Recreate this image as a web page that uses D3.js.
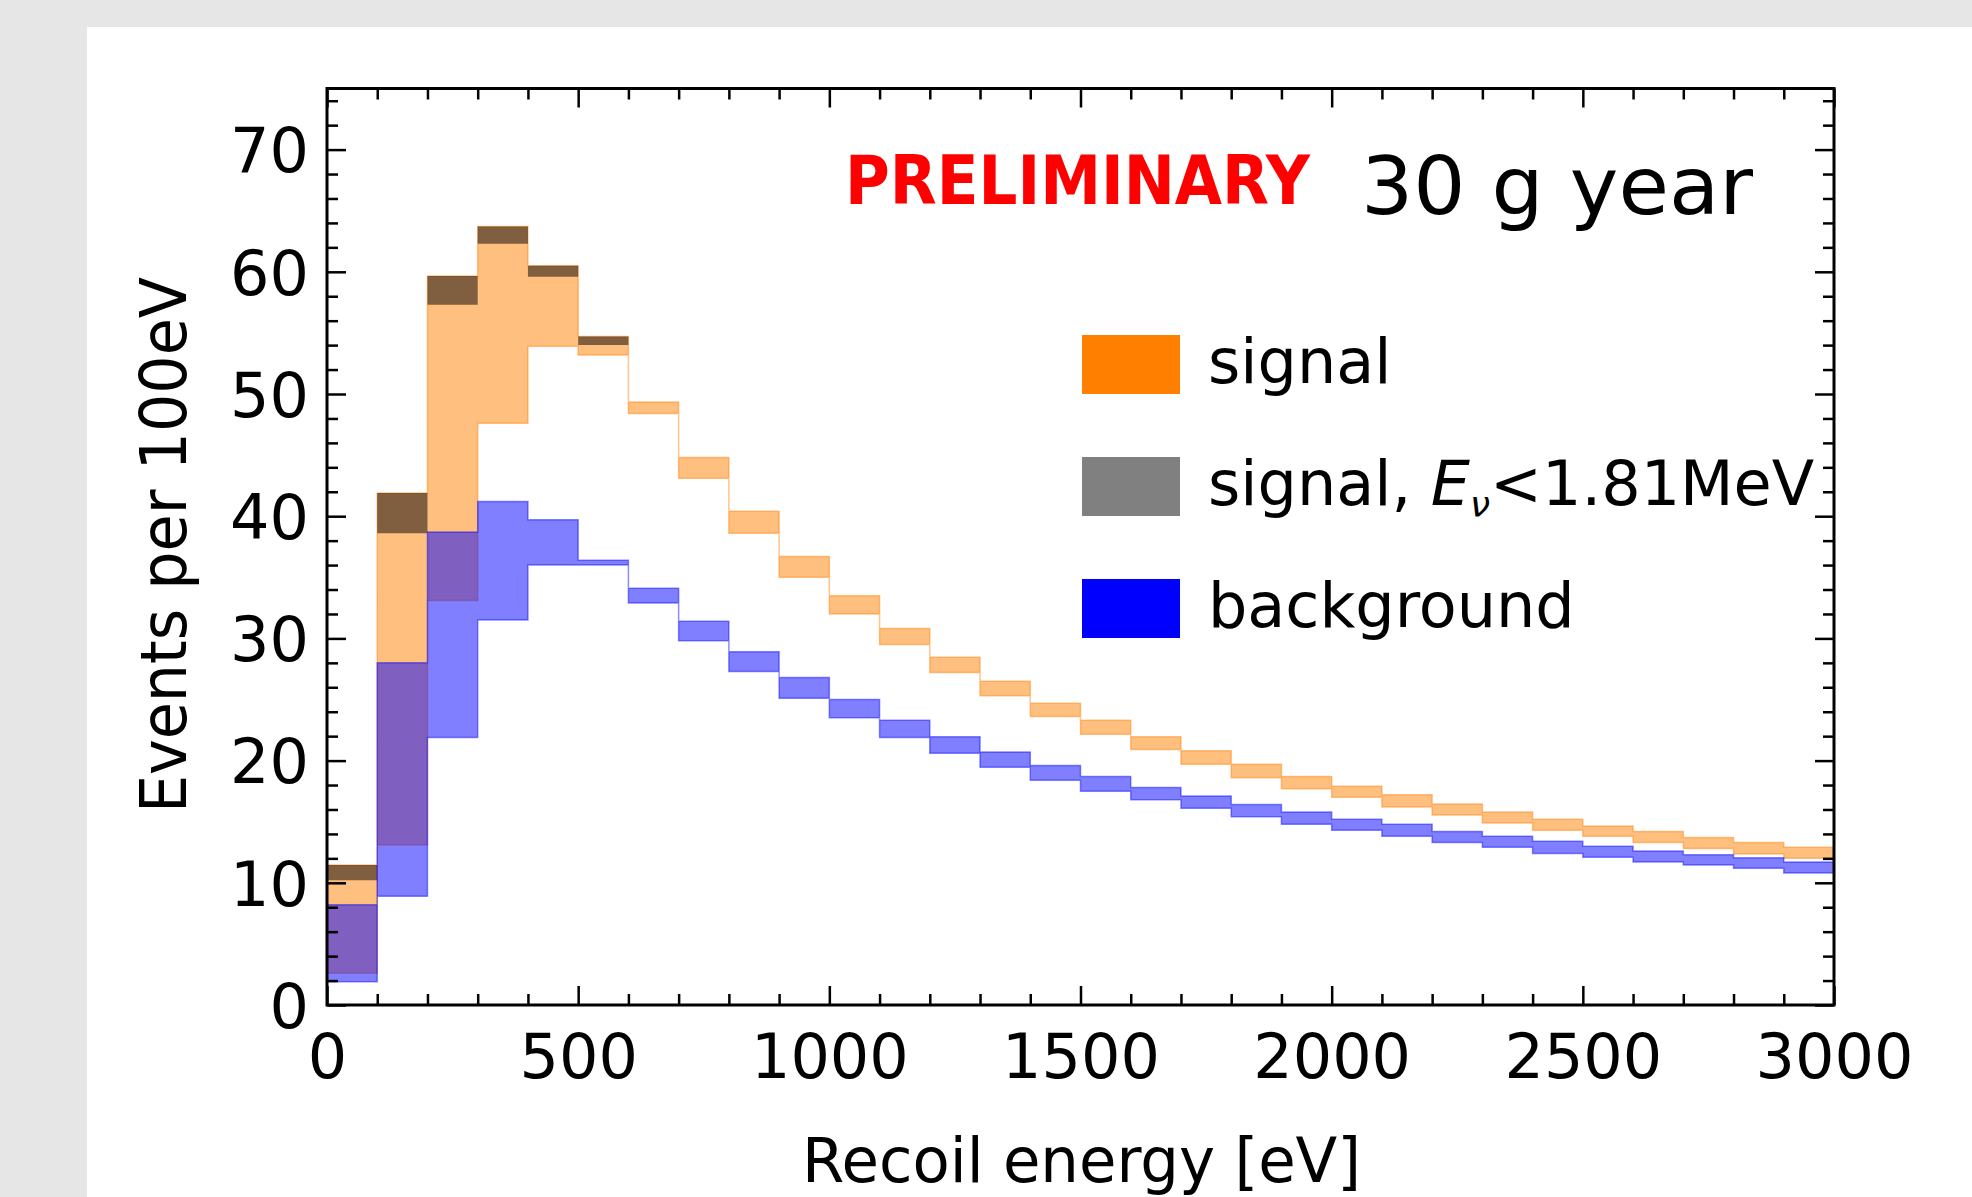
<!DOCTYPE html>
<html><head><meta charset="utf-8">
<script src="https://cdn.jsdelivr.net/npm/d3@7"></script>
<style>html,body{margin:0;padding:0;background:#e6e6e6;} svg{display:block;}</style>
</head><body>
<svg id="chart" width="1972" height="1197"></svg>
<script>
// ---- data ----
const binStart = [0,100,200,300,400,500,600,700,800,900,1000,1100,1200,1300,1400,
                  1500,1600,1700,1800,1900,2000,2100,2200,2300,2400,2500,2600,2700,2800,2900];
const binWidth = 100;
const signalLow  = [2.6,13.1,33.1,47.6,53.9,53.2,48.4,43.1,38.6,35.0,32.0,29.5,27.2,25.3,23.6,
                    22.15,20.9,19.7,18.6,17.7,17.0,16.2,15.55,14.9,14.3,13.8,13.3,12.8,12.35,12.0];
const signalHigh = [11.46,41.9,59.65,63.7,60.5,54.7,49.35,44.8,40.4,36.7,33.5,30.8,28.45,26.5,24.7,
                    23.3,21.95,20.8,19.7,18.7,17.9,17.2,16.45,15.8,15.2,14.65,14.2,13.7,13.3,12.9];
const lowENuLow  = [10.2,38.6,57.3,62.3,59.6,54.0];
const lowENuHigh = [11.46,41.9,59.65,63.7,60.5,54.7];
const backgroundLow  = [1.9,8.9,21.9,31.5,36.0,36.0,32.9,29.8,27.3,25.1,23.5,21.9,20.6,19.45,18.4,
                        17.5,16.8,16.1,15.4,14.8,14.3,13.8,13.3,12.9,12.4,12.1,11.7,11.45,11.2,10.8];
const backgroundHigh = [8.2,28.0,38.7,41.2,39.7,36.4,34.1,31.4,28.9,26.8,25.0,23.3,21.95,20.7,19.6,
                        18.7,17.8,17.1,16.4,15.8,15.2,14.8,14.2,13.8,13.4,13.0,12.6,12.3,12.05,11.7];
const xTickValues = [0,500,1000,1500,2000,2500,3000];
const yTickValues = [0,10,20,30,40,50,60,70];
const seriesNames = ["signal", "signal, E_ν<1.81MeV", "background"];
const seriesColors = ["#ff7f00", "#000000", "#0000ff"];
const seriesEdge = [1.5, 0, 1.5];
const legendColors = ["#ff7f00", "#808080", "#0000ff"];

// ---- layout ----
const FONT = "DejaVu Sans";
const svg = d3.select("#chart");
svg.append("rect").attr("x",87).attr("y",27).attr("width",1972-87).attr("height",1197-27).attr("fill","#ffffff");

const x = d3.scaleLinear().domain([0,3000]).range([327,1834]);
const y = d3.scaleLinear().domain([0,75]).range([1005,88.5]);

function band(lo, hi) {
  const pts = lo.map((v,i)=>({x:binStart[i], y0:v, y1:hi[i]}));
  const n = lo.length - 1;
  pts.push({x:binStart[n]+binWidth, y0:lo[n], y1:hi[n]});
  return pts;
}
const area = d3.area().curve(d3.curveStepAfter)
  .x(d=>x(d.x)).y0(d=>y(d.y0)).y1(d=>y(d.y1));

const bands = [band(signalLow, signalHigh), band(lowENuLow, lowENuHigh), band(backgroundLow, backgroundHigh)];
svg.append("g").selectAll("path").data(bands).join("path")
  .attr("d", area)
  .attr("fill", (d,i)=>seriesColors[i]).attr("fill-opacity",0.5)
  .attr("stroke", (d,i)=>seriesEdge[i] ? seriesColors[i] : "none").attr("stroke-opacity",0.45)
  .attr("stroke-width",(d,i)=>seriesEdge[i])
  .attr("stroke-linejoin","miter");

// ---- axes (inward ticks on all four sides) ----
const minorX = d3.range(0,3001,100).filter(v=>v%500!==0);
const minorY = d3.range(0,75.1,2).filter(v=>v%10!==0);
function styleAxis(g){
  g.select(".domain").remove();
  g.selectAll(".tick line").attr("stroke","#000").attr("stroke-width",2.5);
  g.selectAll("text").attr("font-family",FONT).attr("font-size",62).attr("fill","#000");
}
const bottom = svg.append("g").attr("transform","translate(0,1005)")
  .call(d3.axisBottom(x).tickValues(xTickValues).tickSize(-19).tickFormat(d3.format("d")));
styleAxis(bottom);
bottom.selectAll("text").attr("y",73).attr("dy",0);
svg.append("g").attr("transform","translate(0,1005)")
  .call(d3.axisBottom(x).tickValues(minorX).tickSize(-11).tickFormat("")).call(styleAxis);
svg.append("g").attr("transform","translate(0,88.5)")
  .call(d3.axisTop(x).tickValues(xTickValues).tickSize(-19).tickFormat("")).call(styleAxis);
svg.append("g").attr("transform","translate(0,88.5)")
  .call(d3.axisTop(x).tickValues(minorX).tickSize(-11).tickFormat("")).call(styleAxis);

const left = svg.append("g").attr("transform","translate(327,0)")
  .call(d3.axisLeft(y).tickValues(yTickValues).tickSize(-19).tickPadding(18).tickFormat(d3.format("d")));
styleAxis(left);
left.selectAll("text").attr("dy","0.36em");
svg.append("g").attr("transform","translate(327,0)")
  .call(d3.axisLeft(y).tickValues(minorY).tickSize(-11).tickFormat("")).call(styleAxis);
svg.append("g").attr("transform","translate(1834,0)")
  .call(d3.axisRight(y).tickValues(yTickValues).tickSize(-19).tickFormat("")).call(styleAxis);
svg.append("g").attr("transform","translate(1834,0)")
  .call(d3.axisRight(y).tickValues(minorY).tickSize(-11).tickFormat("")).call(styleAxis);

// frame
svg.append("rect").attr("x",x(0)).attr("y",y(75)).attr("width",x(3000)-x(0)).attr("height",y(0)-y(75))
  .attr("fill","none").attr("stroke","#000").attr("stroke-width",3);

// ---- axis labels ----
svg.append("text").attr("x",1081.5).attr("y",1182).attr("text-anchor","middle")
  .attr("font-family",FONT).attr("font-size",63).attr("textLength",559).attr("lengthAdjust","spacingAndGlyphs")
  .text("Recoil energy [eV]");
svg.append("text").attr("transform","translate(186,545) rotate(-90)").attr("text-anchor","middle")
  .attr("font-family",FONT).attr("font-size",64).attr("textLength",536).attr("lengthAdjust","spacingAndGlyphs")
  .text("Events per 100eV");

// ---- annotations ----
svg.append("text").attr("x",845).attr("y",204).attr("font-family",FONT).attr("font-weight","bold")
  .attr("font-size",68).attr("fill","#ff0000").attr("textLength",465).attr("lengthAdjust","spacingAndGlyphs")
  .text("PRELIMINARY");
svg.append("text").attr("x",1361).attr("y",214).attr("font-family",FONT).attr("font-size",81)
  .attr("fill","#000").attr("textLength",392).attr("lengthAdjust","spacingAndGlyphs").text("30 g year");

// ---- legend ----
const legY = [335, 457, 579];
const leg = svg.append("g");
seriesNames.forEach((name,i)=>{
  leg.append("rect").attr("x",1082).attr("y",legY[i]).attr("width",98).attr("height",59)
    .attr("fill",legendColors[i]);
  const t = leg.append("text").attr("x",1208).attr("y",legY[i]+29.5+18)
    .attr("font-family",FONT).attr("font-size",62).attr("fill","#000");
  if (name.includes("E_ν")) {
    const parts = name.split("E_ν");
    t.append("tspan").text(parts[0]);
    t.append("tspan").attr("font-style","italic").text("E");
    t.append("tspan").attr("font-style","italic").attr("font-size",36).attr("dy",12).text("ν");
    t.append("tspan").attr("dy",-12).text(parts[1]);
  } else {
    t.text(name);
  }
});
</script>
</body></html>
